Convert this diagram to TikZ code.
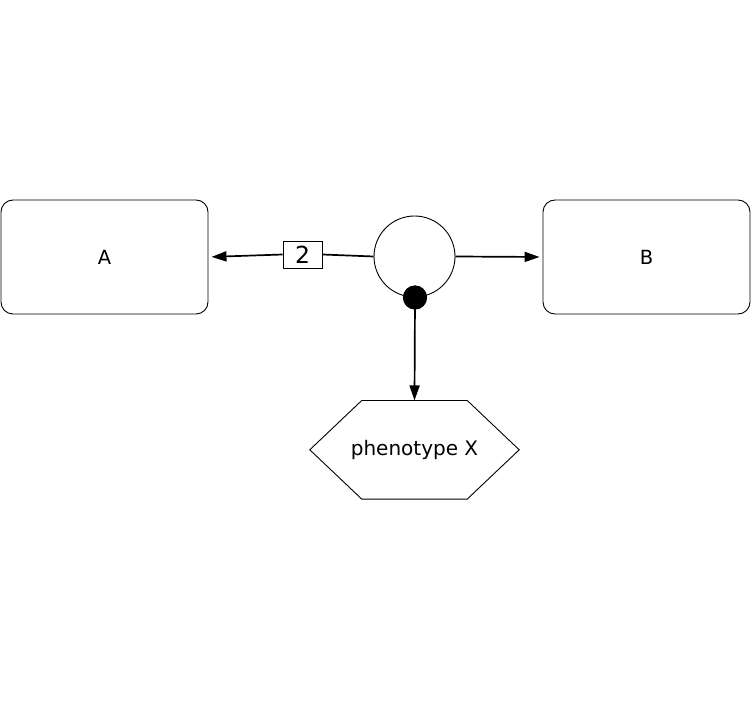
\documentclass[tikz,border=0pt]{standalone}
\usepackage{fontspec}
\setmainfont{DejaVu Sans}
\usetikzlibrary{arrows.meta}
\begin{document}
\begin{tikzpicture}[x=1pt,y=-1pt,
  entity/.style={draw, line width=0.9pt, rounded corners=12pt, minimum width=207pt, minimum height=114pt, inner sep=0pt, font=\fontsize{19.5}{21}\selectfont},
  procnode/.style={draw, line width=0.9pt, circle, minimum size=81pt, inner sep=0pt},
  stoich/.style={draw, line width=0.8pt, minimum width=39pt, minimum height=27pt, inner sep=0pt, font=\fontsize{23.5}{25}\selectfont},
  modnode/.style={fill=black, circle, minimum size=24pt, inner sep=0pt},
  flow/.style={line width=1.7pt},
  prod/.style={line width=1.7pt, -{Triangle[length=15pt,width=10pt]}, shorten >=3pt},
  pheno/.style={minimum width=209pt, minimum height=98.3pt, inner sep=0pt, font=\fontsize{20}{22}\selectfont}
]
\useasboundingbox (0,0) rectangle (752,708);
\node[entity] (A) at (104.5,257) {A};
\node[entity] (B) at (646.5,257) {B};
\node[procnode] (P) at (414.5,256.5) {};
\node[stoich] (S) at (302.5,254.5) {2};
\node[pheno] (X) at (414.5,449.8) {phenotype X};
\draw[line width=0.9pt] (X.west) -- ([xshift=52pt]X.north west) -- ([xshift=-52pt]X.north east) -- (X.east) -- ([xshift=-52pt]X.south east) -- ([xshift=52pt]X.south west) -- cycle;
\draw[flow] (P.west) -- (S.east);
\draw[prod] (S.west) -- (A.east);
\draw[prod] (P.east) -- (B.west);
\node[modnode] (M) at (415,297.5) {};
\draw[line width=1.7pt, -{Triangle[length=15pt,width=10pt]}] (M.center) -- (X.north);
\node[modnode] at (M) {};
\end{tikzpicture}
\end{document}
